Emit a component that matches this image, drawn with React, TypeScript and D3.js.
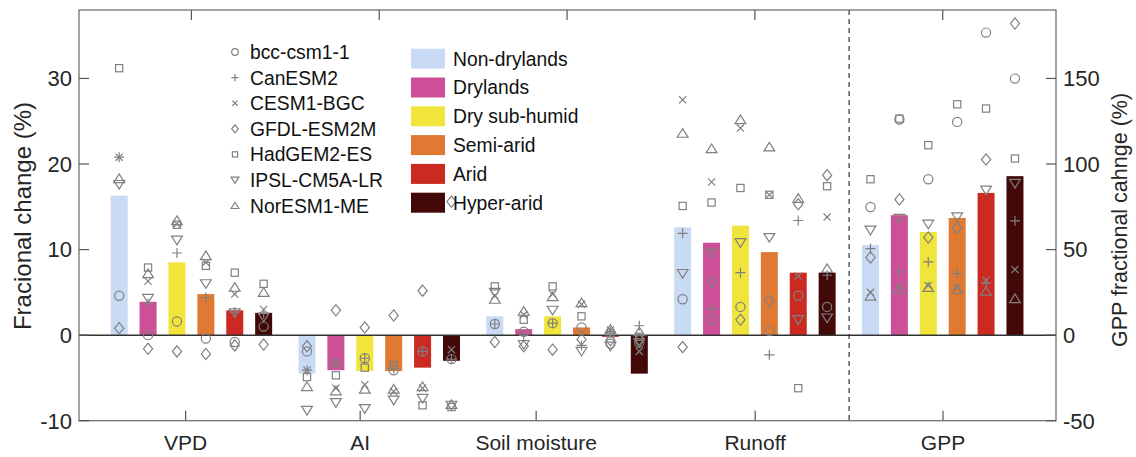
import React from "react";
import * as d3 from "d3";

const variables = ["VPD", "AI", "Soil moisture", "Runoff", "GPP"];
const regions = ["Non-drylands", "Drylands", "Dry sub-humid", "Semi-arid", "Arid", "Hyper-arid"];
const regionColors = ["#c9daf5", "#cc4f97", "#f1e43b", "#e07a33", "#cb2a23", "#430808"];
const models = ["bcc-csm1-1", "CanESM2", "CESM1-BGC", "GFDL-ESM2M", "HadGEM2-ES", "IPSL-CM5A-LR", "NorESM1-ME"];
const modelShapes = ["circle", "plus", "x", "diamond", "square", "down", "up"];

// multi-model mean bars (left axis %, GPP on right axis %)
const barVPD = [16.3, 3.9, 8.5, 4.8, 2.9, 2.6];
const barAI = [-4.5, -4.1, -4.2, -4.2, -3.8, -3.0];
const barSM = [2.2, 0.7, 2.2, 0.9, -0.2, -4.5];
const barRunoff = [12.6, 10.8, 12.8, 9.7, 7.3, 7.3];
const barGPP = [52.6, 70.1, 60.3, 68.5, 83.1, 92.9];

// per-region model values, order = models
const mVPD = [
  [4.6, 20.8, 20.8, 0.8, 31.2, 17.6, 18.3],
  [0.0, 3.7, 6.3, -1.6, 7.9, 4.3, 7.2],
  [1.6, 9.6, 13.0, -1.9, 12.9, 11.1, 13.4],
  [-0.4, 4.4, 8.5, -2.2, 8.1, 6.0, 9.3],
  [-0.8, 2.7, 4.8, -1.2, 7.3, 2.6, 5.6],
  [1.0, 2.5, 3.0, -1.1, 6.0, 2.1, 5.0],
];
const mAI = [
  [-1.9, -4.1, -4.1, -1.3, -4.9, -8.8, -6.0],
  [-3.3, -3.3, -6.2, 2.9, -4.7, -7.9, -6.5],
  [-2.7, -2.7, -5.8, 0.9, -3.8, -8.6, -6.3],
  [-4.1, -3.9, -6.6, 2.3, -3.5, -7.6, -6.3],
  [-1.9, -1.9, -6.2, 5.2, -8.2, -7.4, -6.0],
  [-2.8, -2.8, -1.7, 15.6, -8.4, -8.2, -8.1],
];
const mSM = [
  [1.3, 1.3, 4.6, -0.8, 5.7, 5.0, 4.2],
  [0.4, 0.0, 2.4, -1.3, 1.8, -1.1, 2.8],
  [1.4, 1.4, 4.8, -1.7, 5.7, 2.9, 4.5],
  [0.9, -1.2, 3.6, -0.5, 2.2, -1.9, 3.8],
  [-1.0, 0.4, 0.6, -0.6, 0.2, -1.3, 0.7],
  [-0.9, 1.1, -1.9, -0.5, -0.2, -0.9, 0.4],
];
const mRunoff = [
  [4.2, 11.9, 27.5, -1.4, 15.1, 7.2, 23.6],
  [1.8, 3.1, 17.9, 6.2, 15.5, 9.6, 21.8],
  [3.3, 7.3, 24.2, 1.8, 17.2, 10.8, 25.2],
  [0.5, -2.3, 16.4, 4.0, 16.4, 11.4, 22.0],
  [4.6, 13.4, 6.9, 15.3, -6.2, 1.8, 16.0],
  [3.3, 7.0, 13.8, 18.7, 17.4, 2.0, 7.8],
];
const mGPP = [
  [74.9, 50.6, 25.0, 45.4, 91.1, 61.3, 22.8],
  [126.0, 37.0, 28.0, 79.3, 126.5, 68.2, 26.7],
  [91.1, 42.8, 29.0, 57.1, 111.0, 64.8, 27.9],
  [124.6, 36.0, 28.0, 62.7, 134.9, 69.1, 26.7],
  [176.8, 30.2, 32.0, 102.6, 132.4, 84.7, 25.7],
  [149.9, 66.8, 38.4, 182.1, 103.2, 88.6, 21.4],
];

const leftTicks = [-10, 0, 10, 20, 30];
const rightTicks = [-50, 0, 50, 100, 150];
const bottomTickPos = [3.69, 9.73, 15.82, 23.4, 29.9];

const barSets = [barVPD, barAI, barSM, barRunoff, barGPP];
const modelSets = [mVPD, mAI, mSM, mRunoff, mGPP];

const W = 1136, H = 457;
const L = 79, R = 1056, T = 10, B = 420.7;
const x = d3.scaleLinear().domain([0, 33.81]).range([L, R]);
const yL = d3.scaleLinear().domain([-10, 38]).range([B, T]);
const yR = d3.scaleLinear().domain([-50, 190]).range([B, T]);
const pos = (g: number, i: number) => 1.39 + 6.5 * g + i;

const GRAY = "#808080";
const FONT = "'Liberation Sans', Arial, Helvetica, sans-serif";

function Marker({ shape, cx, cy, s = 1 }: { shape: string; cx: number; cy: number; s?: number }) {
  const p = { fill: "none", stroke: GRAY, strokeWidth: 1.2 };
  if (shape === "circle") return <circle cx={cx} cy={cy} r={4.6 * s} {...p} />;
  if (shape === "plus") {
    const a = 5 * s;
    return <path d={`M${cx - a},${cy}H${cx + a}M${cx},${cy - a}V${cy + a}`} {...p} />;
  }
  if (shape === "x") {
    const a = 3.6 * s;
    return <path d={`M${cx - a},${cy - a}L${cx + a},${cy + a}M${cx - a},${cy + a}L${cx + a},${cy - a}`} {...p} />;
  }
  if (shape === "diamond") {
    const a = 5.6 * s, b = 4.6 * s;
    return <path d={`M${cx},${cy - a}L${cx + b},${cy}L${cx},${cy + a}L${cx - b},${cy}Z`} {...p} />;
  }
  if (shape === "square") {
    const a = 3.6 * s;
    return <rect x={cx - a} y={cy - a} width={2 * a} height={2 * a} {...p} />;
  }
  if (shape === "down") {
    const a = 5.4 * s;
    return <path d={`M${cx - a},${cy - a * 0.75}L${cx + a},${cy - a * 0.75}L${cx},${cy + a * 0.85}Z`} {...p} />;
  }
  const a = 5.4 * s;
  return <path d={`M${cx - a},${cy + a * 0.75}L${cx + a},${cy + a * 0.75}L${cx},${cy - a * 0.85}Z`} {...p} />;
}

export default function App() {
  const bw = 17;
  const zeroY = yL(0);
  return (
    <svg width={W} height={H} style={{ position: "absolute", left: 0, top: 0, background: "#fff" }} fontFamily={FONT}>
      {/* bars */}
      {barSets.map((bars, g) => {
        const ys = g === 4 ? yR : yL;
        return bars.map((v, i) => (
          <rect key={`b${g}-${i}`} x={x(pos(g, i)) - bw / 2} y={Math.min(ys(v), ys(0))} width={bw}
            height={Math.abs(ys(v) - ys(0))} fill={regionColors[i]} />
        ));
      })}
      {/* zero line */}
      <line x1={L} x2={R} y1={zeroY} y2={zeroY} stroke="#333" strokeWidth={1.5} />
      {/* dashed separator */}
      <line x1={x(26.65)} x2={x(26.65)} y1={T} y2={B} stroke="#333" strokeWidth={1.2} strokeDasharray="5,4" />
      {/* model markers */}
      {modelSets.map((set, g) => {
        const ys = g === 4 ? yR : yL;
        return set.map((vals, i) => vals.map((v, m) => (
          <Marker key={`m${g}-${i}-${m}`} shape={modelShapes[m]} cx={x(pos(g, i))} cy={ys(v)} />
        )));
      })}
      {/* box */}
      <rect x={L} y={T} width={R - L} height={B - T} fill="none" stroke="#666" strokeWidth={1.2} />
      {/* left ticks */}
      {leftTicks.map((t) => (
        <g key={`lt${t}`}>
          <line x1={L} x2={L + 10} y1={yL(t)} y2={yL(t)} stroke="#555" strokeWidth={1.2} />
          <text x={L - 7} y={yL(t)} dy="0.36em" textAnchor="end" fontSize={22} fill="#262626">{t}</text>
        </g>
      ))}
      {/* right ticks */}
      {rightTicks.map((t) => (
        <g key={`rt${t}`}>
          <line x1={R - 10} x2={R} y1={yR(t)} y2={yR(t)} stroke="#555" strokeWidth={1.2} />
          <text x={R + 7} y={yR(t)} dy="0.36em" textAnchor="start" fontSize={22} fill="#262626">{t}</text>
        </g>
      ))}
      {/* bottom ticks */}
      {variables.map((v, g) => (
        <g key={`bt${g}`}>
          <line x1={x(bottomTickPos[g])} x2={x(bottomTickPos[g])} y1={B} y2={B - 10} stroke="#555" strokeWidth={1.2} />
          <text x={x(bottomTickPos[g])} y={450} textAnchor="middle" fontSize={21} fill="#262626">{v}</text>
          <line x1={x(pos(g, 2.5))} x2={x(pos(g, 2.5))} y1={T} y2={T + 10} stroke="#555" strokeWidth={1.2} />
        </g>
      ))}
      {/* axis labels */}
      <text transform={`translate(31,216) rotate(-90)`} textAnchor="middle" fontSize={24} fill="#262626">Fracional change (%)</text>
      <text transform={`translate(1127,220) rotate(-90)`} textAnchor="middle" fontSize={21.5} fill="#262626">GPP fractional cahnge (%)</text>
      {/* model legend */}
      {models.map((m, k) => (
        <g key={`lg${k}`}>
          <Marker shape={modelShapes[k]} cx={235} cy={52 + k * 25.6} s={0.72} />
          <text x={250} y={52 + k * 25.6} dy="0.36em" fontSize={19.3} fill="#111">{m}</text>
        </g>
      ))}
      {/* region legend */}
      {regions.map((r, k) => (
        <g key={`rg${k}`}>
          <rect x={411} y={58.7 + k * 28.8 - 10} width={34} height={20} fill={regionColors[k]} />
          <text x={453} y={58.7 + k * 28.8} dy="0.36em" fontSize={19.3} fill="#111">{r}</text>
        </g>
      ))}
    </svg>
  );
}
